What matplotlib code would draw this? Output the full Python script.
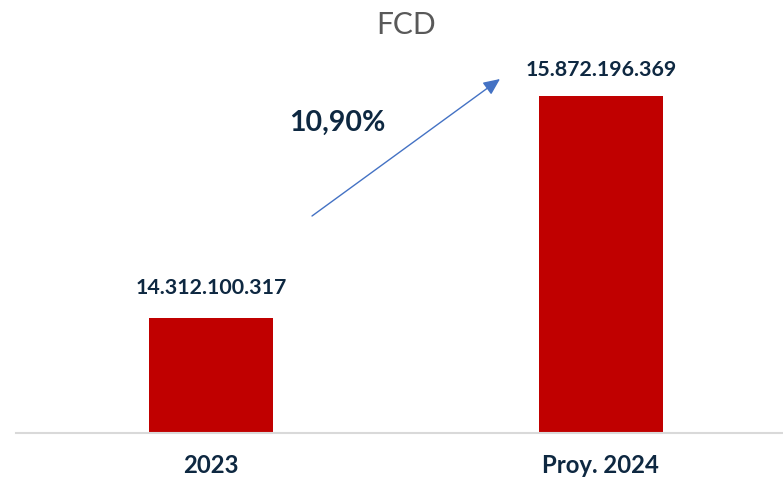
import matplotlib
matplotlib.use("Agg")
import matplotlib.pyplot as plt

categories = ["2023", "Proy. 2024"]
values = [14312100317, 15872196369]
value_labels = ["14.312.100.317", "15.872.196.369"]
growth_label = "10,90%"
title = "FCD"

W, H = 783, 480
fig = plt.figure(figsize=(W / 100, H / 100), dpi=100)
base_y = 433.3
ax = fig.add_axes([16 / W, (H - base_y) / H, 1 - 16 / W, base_y / H])
ax.set_xlim(-0.5, 1.467)
ax.set_ylim(13.5e9, 16.549e9)

navy = "#0E2841"
x = list(range(len(categories)))
ax.bar(x, [v - 13.5e9 for v in values], bottom=13.5e9, width=0.318, color="#C00000", zorder=2)

for xi, v, lab, off in zip(x, values, value_labels, [30, 26]):
    ax.annotate(lab, (xi, v), xytext=(0, off * 0.72), textcoords="offset points",
                ha="center", va="center", fontsize=15.4, fontweight="bold",
                color=navy, family="Lato")

ax.set_xticks(x)
ax.set_xticklabels(categories, fontsize=17.2, fontweight="bold", color=navy, family="Lato")
ax.tick_params(axis="x", length=0, pad=15)
ax.set_yticks([])
for s in ["top", "right", "left"]:
    ax.spines[s].set_visible(False)
ax.spines["bottom"].set_color("#D9D9D9")
ax.spines["bottom"].set_linewidth(1.5)

# growth arrow
ax.annotate("", xy=(500, H - 79), xycoords="figure pixels",
            xytext=(312, H - 216), textcoords="figure pixels",
            arrowprops=dict(arrowstyle="-|>,head_length=1.0,head_width=0.45",
                            color="#4472C4", lw=1.0, shrinkA=0, shrinkB=0))
fig.text(337 / W, 1 - 123 / H, growth_label, ha="center", va="center",
         fontsize=20.5, fontweight="bold", color=navy, family="Lato")

fig.text(406 / W, 1 - 25 / H, title, ha="center", va="center",
         fontsize=21.5, color="#595959", family="Lato")

fig.savefig("out.png", dpi=100)
